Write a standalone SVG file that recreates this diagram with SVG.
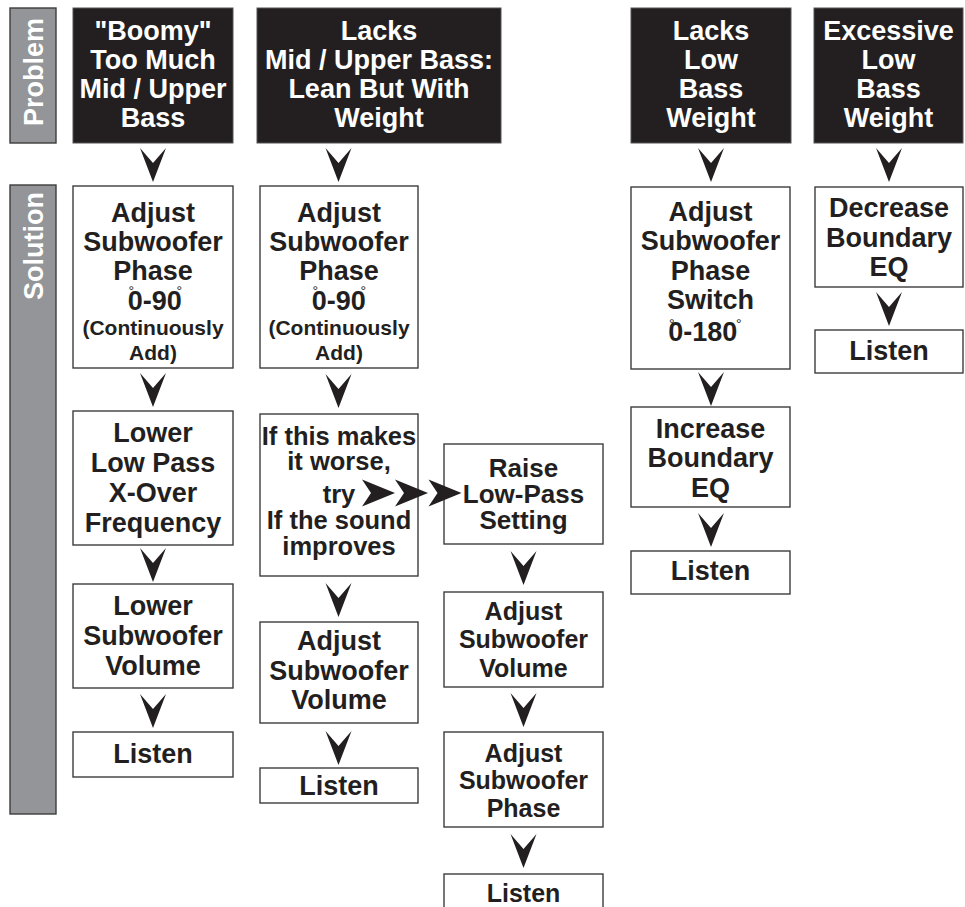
<svg xmlns="http://www.w3.org/2000/svg" xmlns:xlink="http://www.w3.org/1999/xlink" width="965" height="907" viewBox="0 0 965 907">
<style>
  text { font-family: "Liberation Sans", Arial, Helvetica, sans-serif; font-weight: bold; text-anchor: middle; }
  .hdr { fill: #231f20; stroke: #555; stroke-width: 1; }
  .hdr-t { fill: #ffffff; font-size: 27px; }
  .box { fill: #ffffff; stroke: #3d3d3d; stroke-width: 1.4; }
  .t { fill: #231f20; font-size: 27px; }
  .t25 { fill: #231f20; font-size: 25.5px; }
  .t3 { fill: #231f20; font-size: 25px; }
  .sm { fill: #231f20; font-size: 21px; }
  .deg { font-size: 14px; font-weight: normal; }
  .side { fill: #939598; stroke: #3d3d3d; stroke-width: 1.4; }
  .side-t { fill: #ffffff; font-size: 27px; }
  .arr { fill: #231f20; }
</style>
<defs>
  <path id="dn" class="arr" d="M-13,0 L0,34 L13,0 L0,15 Z"/>
  <path id="rt" class="arr" d="M0,-13.5 L33,0 L0,13.5 L9,0 Z"/>
</defs>

<!-- Side labels -->
<g id="side-problem">
  <rect class="side" x="10" y="8" width="46" height="135"/>
  <text class="side-t" transform="translate(43,72) rotate(-90)">Problem</text>
</g>
<g id="side-solution">
  <rect class="side" x="10" y="185" width="46" height="629"/>
  <text class="side-t" transform="translate(43,246) rotate(-90)">Solution</text>
</g>

<!-- Column 1 -->
<g id="p1">
  <rect class="hdr" x="73" y="8" width="160" height="135"/>
  <text class="hdr-t"><tspan x="153" y="39.5">"Boomy"</tspan><tspan x="153" y="69">Too Much</tspan><tspan x="153" y="98">Mid / Upper</tspan><tspan x="153" y="127">Bass</tspan></text>
</g>
<g id="s1a">
  <rect class="box" x="73" y="186" width="160" height="182"/>
  <text class="t"><tspan x="153" y="222">Adjust</tspan><tspan x="153" y="251">Subwoofer</tspan><tspan x="153" y="280">Phase</tspan></text>
  <text class="t" x="155" y="310">0<tspan class="deg" dx="-14.3" dy="-14">°</tspan><tspan dx="8.7" dy="14">-90</tspan><tspan class="deg" dx="-5.3" dy="-14">°</tspan></text>
  <text class="sm"><tspan x="153" y="335">(Continuously</tspan><tspan x="153" y="360">Add)</tspan></text>
</g>
<g id="s1b">
  <rect class="box" x="73" y="411" width="160" height="134"/>
  <text class="t"><tspan x="153" y="442">Lower</tspan><tspan x="153" y="472">Low Pass</tspan><tspan x="153" y="502">X-Over</tspan><tspan x="153" y="532">Frequency</tspan></text>
</g>
<g id="s1c">
  <rect class="box" x="73" y="584" width="160" height="104"/>
  <text class="t"><tspan x="153" y="615">Lower</tspan><tspan x="153" y="645">Subwoofer</tspan><tspan x="153" y="675">Volume</tspan></text>
</g>
<g id="s1d">
  <rect class="box" x="73" y="732" width="160" height="45"/>
  <text class="t" x="153" y="763">Listen</text>
</g>

<!-- Column 2 -->
<g id="p2">
  <rect class="hdr" x="257" y="8" width="244" height="135"/>
  <text class="hdr-t"><tspan x="379" y="39.5">Lacks</tspan><tspan x="379" y="69">Mid / Upper Bass:</tspan><tspan x="379" y="98">Lean But With</tspan><tspan x="379" y="127">Weight</tspan></text>
</g>
<g id="s2a">
  <rect class="box" x="260" y="186" width="158" height="182"/>
  <text class="t"><tspan x="339" y="222">Adjust</tspan><tspan x="339" y="251">Subwoofer</tspan><tspan x="339" y="280">Phase</tspan></text>
  <text class="t" x="339" y="310">0<tspan class="deg" dx="-14.3" dy="-14">°</tspan><tspan dx="8.7" dy="14">-90</tspan><tspan class="deg" dx="-5.3" dy="-14">°</tspan></text>
  <text class="sm"><tspan x="339" y="335">(Continuously</tspan><tspan x="339" y="360">Add)</tspan></text>
</g>
<g id="s2b">
  <rect class="box" x="260" y="414" width="158" height="162"/>
  <text class="t25"><tspan x="339" y="445">If this makes</tspan><tspan x="339" y="470">it worse,</tspan><tspan x="339" y="503">try</tspan><tspan x="339" y="529">If the sound</tspan><tspan x="339" y="555">improves</tspan></text>
</g>
<g id="s2c">
  <rect class="box" x="260" y="622" width="158" height="101"/>
  <text class="t"><tspan x="339" y="650">Adjust</tspan><tspan x="339" y="680">Subwoofer</tspan><tspan x="339" y="709">Volume</tspan></text>
</g>
<g id="s2d">
  <rect class="box" x="260" y="768" width="158" height="35"/>
  <text class="t" x="339" y="795">Listen</text>
</g>

<!-- Column 3 -->
<g id="s3a">
  <rect class="box" x="444" y="444" width="159" height="100"/>
  <text class="t3" style="font-size:26px"><tspan x="523.5" y="477">Raise</tspan><tspan x="523.5" y="503">Low-Pass</tspan><tspan x="523.5" y="529">Setting</tspan></text>
</g>
<g id="s3b">
  <rect class="box" x="444" y="592" width="159" height="95"/>
  <text class="t3"><tspan x="523.5" y="620">Adjust</tspan><tspan x="523.5" y="648">Subwoofer</tspan><tspan x="523.5" y="677">Volume</tspan></text>
</g>
<g id="s3c">
  <rect class="box" x="444" y="732" width="159" height="95"/>
  <text class="t3"><tspan x="523.5" y="762">Adjust</tspan><tspan x="523.5" y="789">Subwoofer</tspan><tspan x="523.5" y="817">Phase</tspan></text>
</g>
<g id="s3d">
  <rect class="box" x="444" y="874" width="159" height="45"/>
  <text class="t3" x="523.5" y="902">Listen</text>
</g>

<!-- Column 4 -->
<g id="p3">
  <rect class="hdr" x="631" y="8" width="160" height="135"/>
  <text class="hdr-t"><tspan x="711" y="39.5">Lacks</tspan><tspan x="711" y="69">Low</tspan><tspan x="711" y="98">Bass</tspan><tspan x="711" y="127">Weight</tspan></text>
</g>
<g id="s4a">
  <rect class="box" x="631" y="187" width="159" height="182"/>
  <text class="t"><tspan x="710.5" y="221">Adjust</tspan><tspan x="710.5" y="250">Subwoofer</tspan><tspan x="710.5" y="280">Phase</tspan><tspan x="710.5" y="309">Switch</tspan></text>
  <text class="t" x="705" y="341">0<tspan class="deg" dx="-14.3" dy="-12">°</tspan><tspan dx="8.7" dy="12">-180</tspan><tspan class="deg" dx="-1.3" dy="-12">°</tspan></text>
</g>
<g id="s4b">
  <rect class="box" x="631" y="407" width="159" height="100"/>
  <text class="t"><tspan x="710.5" y="438">Increase</tspan><tspan x="710.5" y="467">Boundary</tspan><tspan x="710.5" y="497">EQ</tspan></text>
</g>
<g id="s4c">
  <rect class="box" x="631" y="551" width="159" height="43"/>
  <text class="t" x="710.5" y="580">Listen</text>
</g>

<!-- Column 5 -->
<g id="p4">
  <rect class="hdr" x="814" y="8" width="149" height="135"/>
  <text class="hdr-t"><tspan x="888.5" y="39.5">Excessive</tspan><tspan x="888.5" y="69">Low</tspan><tspan x="888.5" y="98">Bass</tspan><tspan x="888.5" y="127">Weight</tspan></text>
</g>
<g id="s5a">
  <rect class="box" x="815" y="187" width="148" height="100"/>
  <text class="t"><tspan x="889" y="217">Decrease</tspan><tspan x="889" y="247">Boundary</tspan><tspan x="889" y="276">EQ</tspan></text>
</g>
<g id="s5b">
  <rect class="box" x="815" y="330" width="148" height="43"/>
  <text class="t" x="889" y="360">Listen</text>
</g>

<!-- Connectors -->
<g id="connectors">
  <use xlink:href="#dn" x="153" y="148"/>
  <use xlink:href="#dn" x="153" y="373"/>
  <use xlink:href="#dn" x="153" y="548"/>
  <use xlink:href="#dn" x="153" y="694"/>

  <use xlink:href="#dn" x="338.5" y="148"/>
  <use xlink:href="#dn" x="338.5" y="374"/>
  <use xlink:href="#dn" x="338.5" y="583"/>
  <use xlink:href="#dn" x="338.5" y="731"/>

  <use xlink:href="#rt" x="362" y="493"/>
  <use xlink:href="#rt" x="395" y="493"/>
  <use xlink:href="#rt" x="428.5" y="493"/>

  <use xlink:href="#dn" x="523.5" y="551"/>
  <use xlink:href="#dn" x="523.5" y="693"/>
  <use xlink:href="#dn" x="523.5" y="834"/>

  <use xlink:href="#dn" x="711" y="148"/>
  <use xlink:href="#dn" x="711" y="372"/>
  <use xlink:href="#dn" x="711" y="513"/>

  <use xlink:href="#dn" x="889" y="148"/>
  <use xlink:href="#dn" x="889" y="292"/>
</g>
</svg>
